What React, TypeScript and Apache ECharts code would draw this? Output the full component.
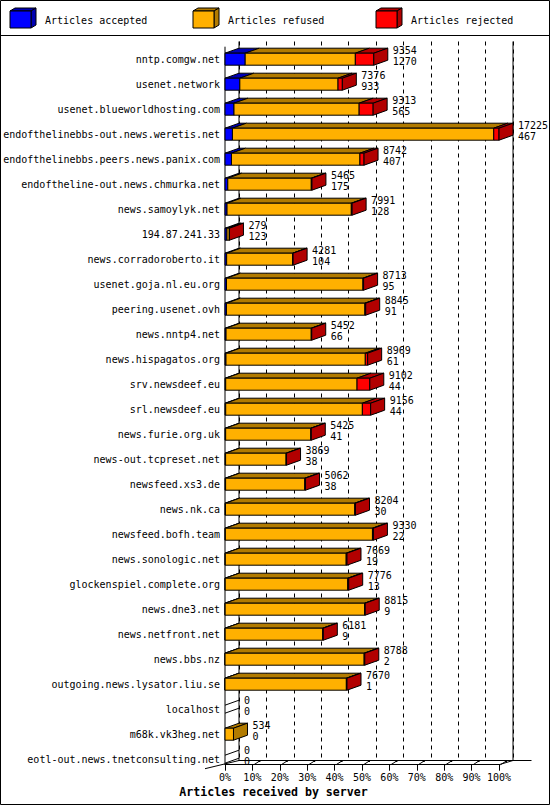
import React, { useEffect, useRef } from "react";
import * as echarts from "echarts";

const hosts = [
  "nntp.comgw.net",
  "usenet.network",
  "usenet.blueworldhosting.com",
  "endofthelinebbs-out.news.weretis.net",
  "endofthelinebbs.peers.news.panix.com",
  "endoftheline-out.news.chmurka.net",
  "news.samoylyk.net",
  "194.87.241.33",
  "news.corradoroberto.it",
  "usenet.goja.nl.eu.org",
  "peering.usenet.ovh",
  "news.nntp4.net",
  "news.hispagatos.org",
  "srv.newsdeef.eu",
  "srl.newsdeef.eu",
  "news.furie.org.uk",
  "news-out.tcpreset.net",
  "newsfeed.xs3.de",
  "news.nk.ca",
  "newsfeed.bofh.team",
  "news.sonologic.net",
  "glockenspiel.complete.org",
  "news.dne3.net",
  "news.netfront.net",
  "news.bbs.nz",
  "outgoing.news.lysator.liu.se",
  "localhost",
  "m68k.vk3heg.net",
  "eotl-out.news.tnetconsulting.net",
];

// total articles offered (first label line)
const totals = [
  9354, 7376, 9313, 17225, 8742, 5465, 7991, 279, 4281, 8713, 8845, 5452, 8969,
  9102, 9156, 5425, 3869, 5062, 8204, 9330, 7669, 7776, 8815, 6181, 8788, 7670,
  0, 534, 0,
];
// articles accepted (second label line)
const accepted = [
  1270, 933, 565, 467, 407, 175, 128, 123, 104, 95, 91, 66, 61, 44, 44, 41, 38,
  38, 30, 22, 19, 13, 9, 9, 2, 1, 0, 0, 0,
];
// articles refused
const refused = [
  6924, 6173, 7868, 16428, 8075, 5250, 7813, 150, 4152, 8578, 8704, 5356, 8758,
  8258, 8592, 5354, 3801, 4974, 8124, 9248, 7600, 7703, 8766, 6132, 8746, 7629,
  0, 534, 0,
];
// articles rejected
const rejected = [
  1160, 270, 880, 330, 260, 40, 50, 6, 25, 40, 50, 30, 150, 800, 520, 30, 30,
  50, 50, 60, 50, 60, 40, 40, 40, 40, 0, 0, 0,
];

const seriesNames = ["Articles accepted", "Articles refused", "Articles rejected"];
const xTicks = [0, 10, 20, 30, 40, 50, 60, 70, 80, 90, 100];
const axisTitle = "Articles received by server";

const FACE = ["#0000ff", "#ffb000", "#ff0000"];
const DARK = ["#0000b2", "#b27b00", "#b20000"];
const MONO = '"DejaVu Sans Mono", "Liberation Mono", monospace';

const FL = 225; // front plane left
const FW = 274; // plane width
const FT = 46.7;
const FH = 725;
const DX = 14;
const DY = 5;
const BL = FL + DX;
const BT = 41.5;
const FLOOR_F = 764.7;
const FLOOR_B = 760.5;

export default function App() {
  const ref = useRef<HTMLDivElement>(null);

  useEffect(() => {
    if (!ref.current) return;
    const chart = echarts.init(ref.current, null, { renderer: "svg" });
    const maxTotal = Math.max(...totals);
    const data = hosts.map((_, i) => [
      i,
      (accepted[i] / maxTotal) * 100,
      (refused[i] / maxTotal) * 100,
      (rejected[i] / maxTotal) * 100,
      totals[i],
      accepted[i],
    ]);

    const renderItem = (params: any, api: any) => {
      const i = api.value(0);
      const a = api.value(1);
      const r = api.value(2);
      const j = api.value(3);
      const tot = api.value(4);
      const acc = api.value(5);
      const base = api.coord([0, i]);
      const c = base[1];
      const h = api.size([0, 1])[1] * 0.48;
      const top = c - h / 2;
      const bot = c + h / 2;
      const segs = [
        [0, a],
        [a, a + r],
        [a + r, a + r + j],
      ];
      const children: any[] = [];
      let lastEnd = base[0];
      let last = -1;
      segs.forEach((s, k) => {
        if (s[1] - s[0] <= 0) return;
        const xs = api.coord([s[0], i])[0];
        const xe = api.coord([s[1], i])[0];
        children.push({
          type: "polygon",
          shape: {
            points: [
              [xs, top],
              [xe, top],
              [xe + DX, top - DY],
              [xs + DX, top - DY],
            ],
          },
          style: { fill: DARK[k], stroke: "#000", lineWidth: 1 },
        });
        children.push({
          type: "rect",
          shape: { x: xs, y: top, width: xe - xs, height: h },
          style: { fill: FACE[k], stroke: "#000", lineWidth: 1 },
        });
        lastEnd = xe;
        last = k;
      });
      if (last >= 0) {
        children.push({
          type: "polygon",
          shape: {
            points: [
              [lastEnd, top],
              [lastEnd + DX, top - DY],
              [lastEnd + DX, bot - DY],
              [lastEnd, bot],
            ],
          },
          style: { fill: DARK[last], stroke: "#000", lineWidth: 1 },
        });
      } else {
        children.push({
          type: "line",
          shape: { x1: lastEnd, y1: top + 2, x2: lastEnd + DX, y2: top + 2 - DY },
          style: { stroke: "#000", lineWidth: 1 },
        });
        children.push({
          type: "line",
          shape: { x1: lastEnd, y1: bot - 2, x2: lastEnd + DX, y2: bot - 2 - DY },
          style: { stroke: "#000", lineWidth: 1 },
        });
      }
      const lx = lastEnd + DX + 5;
      children.push({
        type: "text",
        style: {
          text: String(tot),
          x: lx,
          y: c - 8.5,
          fill: "#000",
          fontSize: 10,
          fontFamily: MONO,
          align: "left",
          verticalAlign: "middle",
        },
        z2: 10,
      });
      children.push({
        type: "text",
        style: {
          text: String(acc),
          x: lx,
          y: c + 2,
          fill: "#000",
          fontSize: 10,
          fontFamily: MONO,
          align: "left",
          verticalAlign: "middle",
        },
        z2: 10,
      });
      return { type: "group", children };
    };

    const line = (x1: number, y1: number, x2: number, y2: number, z = 1) => ({
      type: "line",
      z,
      silent: true,
      shape: { x1, y1, x2, y2 },
      style: { stroke: "#000", lineWidth: 1 },
    });

    const graphics: any[] = [];
    // frame
    graphics.push({
      type: "rect",
      z: 1,
      shape: { x: 0.5, y: 0.5, width: 549, height: 804 },
      style: { fill: "none", stroke: "#000", lineWidth: 1 },
    });
    graphics.push(line(0, 35.5, 550, 35.5));
    // legend
    const legendX = [10, 193, 376];
    seriesNames.forEach((name, k) => {
      const x = legendX[k];
      graphics.push({
        type: "polygon",
        z: 5,
        shape: { points: [[x, 11], [x + 21, 11], [x + 26, 8], [x + 5, 8]] },
        style: { fill: DARK[k], stroke: "#000", lineWidth: 1 },
      });
      graphics.push({
        type: "polygon",
        z: 5,
        shape: { points: [[x + 21, 11], [x + 26, 8], [x + 26, 25], [x + 21, 28]] },
        style: { fill: DARK[k], stroke: "#000", lineWidth: 1 },
      });
      graphics.push({
        type: "rect",
        z: 5,
        shape: { x, y: 11, width: 21, height: 17 },
        style: { fill: FACE[k], stroke: "#000", lineWidth: 1 },
      });
      graphics.push({
        type: "text",
        z: 5,
        style: {
          text: name,
          x: x + 35,
          y: 20,
          fill: "#000",
          fontSize: 10,
          fontFamily: MONO,
          align: "left",
          verticalAlign: "middle",
        },
      });
    });
    // walls
    graphics.push(line(FL, FT, FL, FLOOR_F));
    graphics.push(line(BL, BT, BL, FLOOR_B));
    graphics.push(line(BL + FW, BT, BL + FW, FLOOR_B));
    // floor edges
    graphics.push(line(205, 768.7, BL, FLOOR_B));
    graphics.push(line(FL + FW, FLOOR_F, BL + FW, FLOOR_B));
    graphics.push(line(BL + FW, FLOOR_B, 531.5, FLOOR_B));
    // slanted tick marks
    xTicks.slice(1).forEach((t) => {
      const x = FL + (FW * t) / 100;
      graphics.push(line(x + 1.5, FLOOR_F, x + 6.5, FLOOR_B + 1));
      graphics.push({
        type: "rect",
        z: 1,
        shape: { x: x + 6, y: FLOOR_B - 0.5, width: 2, height: 2 },
        style: { fill: "#000" },
      });
    });
    // axis title
    graphics.push({
      type: "text",
      z: 5,
      style: {
        text: axisTitle,
        x: 273.5,
        y: 792,
        fill: "#000",
        fontSize: 11.6,
        fontWeight: "bold",
        fontFamily: MONO,
        align: "center",
        verticalAlign: "middle",
      },
    });

    chart.setOption({
      animation: false,
      backgroundColor: "#fff",
      grid: [
        { left: FL, top: FT, width: FW, height: FH },
        { left: BL, top: BT, width: FW, height: FLOOR_B - BT },
      ],
      xAxis: [
        {
          type: "value",
          gridIndex: 0,
          min: xTicks[0],
          max: xTicks[xTicks.length - 1],
          interval: 10,
          offset: -7,
          axisLine: { show: true, lineStyle: { color: "#000", width: 1 } },
          axisTick: { show: true, length: 6, lineStyle: { color: "#000" } },
          axisLabel: {
            formatter: "{value}%",
            margin: 8,
            color: "#000",
            fontSize: 10,
            fontFamily: MONO,
          },
          splitLine: { show: false },
        },
        {
          type: "value",
          gridIndex: 1,
          min: xTicks[0],
          max: xTicks[xTicks.length - 1],
          interval: 10,
          axisLine: { show: true, lineStyle: { color: "#000", width: 1 } },
          axisTick: { show: false },
          axisLabel: { show: false },
          splitLine: {
            show: true,
            lineStyle: { color: "#000", width: 1, type: [4, 4] },
          },
        },
      ],
      yAxis: [
        {
          type: "category",
          gridIndex: 0,
          data: hosts,
          inverse: true,
          axisLine: { show: false },
          axisTick: { show: false },
          axisLabel: {
            margin: 5,
            color: "#000",
            fontSize: 10,
            fontFamily: MONO,
            interval: 0,
          },
        },
        {
          type: "category",
          gridIndex: 1,
          data: hosts,
          inverse: true,
          show: false,
        },
      ],
      graphic: graphics,
      series: [
        {
          type: "custom",
          name: "bars",
          xAxisIndex: 0,
          yAxisIndex: 0,
          clip: false,
          z: 5,
          encode: { x: 1, y: 0 },
          renderItem,
          data,
        },
      ],
    });
    return () => chart.dispose();
  }, []);

  return (
    <div
      ref={ref}
      style={{ position: "absolute", left: 0, top: 0, width: 550, height: 805 }}
    />
  );
}
